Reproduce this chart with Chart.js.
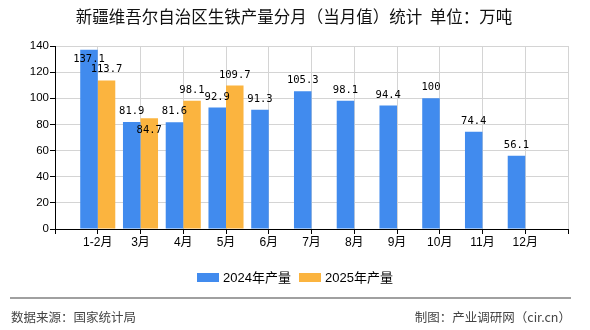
<!DOCTYPE html>
<html>
<head>
<meta charset="utf-8">
<script src="https://cdn.jsdelivr.net/npm/chart.js@4.4.1/dist/chart.umd.min.js"></script>
<style>
  html, body { margin: 0; padding: 0; background: #fff; }
  #wrap { width: 590px; height: 330px; position: relative; }
</style>
</head>
<body>
<div id="wrap"><canvas id="ironChart"></canvas></div>
<script>
// data
const months = ['1-2月', '3月', '4月', '5月', '6月', '7月', '8月', '9月', '10月', '11月', '12月'];
const output2024 = [137.1, 81.9, 81.6, 92.9, 91.3, 105.3, 98.1, 94.4, 100, 74.4, 56.1];
const output2025 = [113.7, 84.7, 98.1, 109.7, null, null, null, null, null, null, null];
const yTicks = [0, 20, 40, 60, 80, 100, 120, 140];

const titleText = '新疆维吾尔自治区生铁产量分月（当月值）统计  单位：万吨';
const sourceText = '数据来源：国家统计局';
const makerText = '制图：产业调研网（cir.cn）';

const BLUE = '#418bee';
const ORANGE = '#fbb43f';
const CJK = '"Liberation Sans", "Noto Sans CJK SC", sans-serif';

// empty slot at each end so the axis runs half a step past the first/last month
const labels = [''].concat(months, ['']);
const pad = arr => [null].concat(arr, [null]);

// title, legend, footer and value labels
const decor = {
  id: 'decor',
  afterDatasetsDraw(chart) {
    const ctx = chart.ctx;
    const area = chart.chartArea;
    ctx.save();
    ctx.font = '10.5px "DejaVu Sans Mono", monospace';
    ctx.fillStyle = '#000';
    ctx.textAlign = 'center';
    ctx.textBaseline = 'alphabetic';
    const placed = [];
    chart.data.datasets.forEach((ds, di) => {
      const meta = chart.getDatasetMeta(di);
      meta.data.forEach((bar, i) => {
        const v = ds.data[i];
        if (v == null) return;
        const txt = String(v);
        let y = bar.y - 8;
        if (y - 9 < area.top) y = area.top + 16;
        const w = ctx.measureText(txt).width;
        const prev = placed[i];
        if (prev && Math.abs(prev.x - bar.x) < (w + prev.w) / 2 && Math.abs(prev.y - y) < 9) {
          y = bar.y + 15;
        }
        placed[i] = { x: bar.x, y: y, w: w };
        ctx.fillText(txt, bar.x, y);
      });
    });
    ctx.restore();
  },
  afterDraw(chart) {
    const ctx = chart.ctx;
    ctx.save();
    // title
    ctx.font = '16.5px "Noto Sans CJK SC", sans-serif';
    ctx.fillStyle = '#111';
    ctx.textAlign = 'center';
    ctx.textBaseline = 'middle';
    ctx.fillText(titleText, 294, 17);

    // legend
    ctx.font = '13px ' + CJK;
    ctx.textAlign = 'left';
    ctx.fillStyle = BLUE;
    ctx.fillRect(197, 273, 22, 9);
    ctx.fillStyle = '#000';
    ctx.fillText(chart.data.datasets[0].label, 223, 278);
    ctx.fillStyle = ORANGE;
    ctx.fillRect(299, 273, 22, 9);
    ctx.fillStyle = '#000';
    ctx.fillText(chart.data.datasets[1].label, 325, 278);

    // footer
    ctx.strokeStyle = '#808080';
    ctx.lineWidth = 1.5;
    ctx.beginPath();
    ctx.moveTo(10, 298);
    ctx.lineTo(571, 298);
    ctx.stroke();
    ctx.font = '12.5px "Noto Sans CJK SC", sans-serif';
    ctx.fillStyle = '#444';
    ctx.textAlign = 'left';
    ctx.fillText(sourceText, 11, 317);
    ctx.textAlign = 'right';
    ctx.fillText(makerText, 571, 317);
    ctx.restore();
  }
};

const ctx = document.getElementById('ironChart').getContext('2d');

const ironChart = new Chart(ctx, {
  type: 'bar',
  data: {
    labels: labels,
    datasets: [
      {
        label: '2024年产量',
        data: pad(output2024),
        backgroundColor: BLUE,
        borderWidth: 0
      },
      {
        label: '2025年产量',
        data: pad(output2025),
        backgroundColor: ORANGE,
        borderWidth: 0
      }
    ]
  },
  options: {
    responsive: true,
    maintainAspectRatio: false,
    animation: false,
    layout: {
      padding: { top: 46, right: 22, bottom: 81, left: 0 }
    },
    datasets: {
      bar: { categoryPercentage: 0.82, barPercentage: 1.0 }
    },
    plugins: {
      legend: { display: false },
      title: { display: false },
      tooltip: { enabled: true }
    },
    scales: {
      x: {
        offset: false,
        grid: {
          offset: false,
          color: '#d4d4d4',
          tickColor: '#000',
          tickLength: 5
        },
        border: { color: '#000', width: 1 },
        ticks: {
          color: '#000',
          font: { size: 12, family: CJK },
          padding: 1,
          maxRotation: 0,
          autoSkip: false
        },
        afterFit(scale) { scale.height = 20; }
      },
      y: {
        min: 0,
        max: 140,
        afterBuildTicks(scale) { scale.ticks = yTicks.map(v => ({ value: v })); },
        grid: {
          color: '#d4d4d4',
          tickColor: '#000',
          tickLength: 5
        },
        border: { color: '#000', width: 1 },
        ticks: {
          color: '#000',
          font: { size: 11.5, family: CJK },
          padding: 1
        },
        afterFit(scale) { scale.width = 55; }
      }
    }
  },
  plugins: [decor]
});
</script>
</body>
</html>
